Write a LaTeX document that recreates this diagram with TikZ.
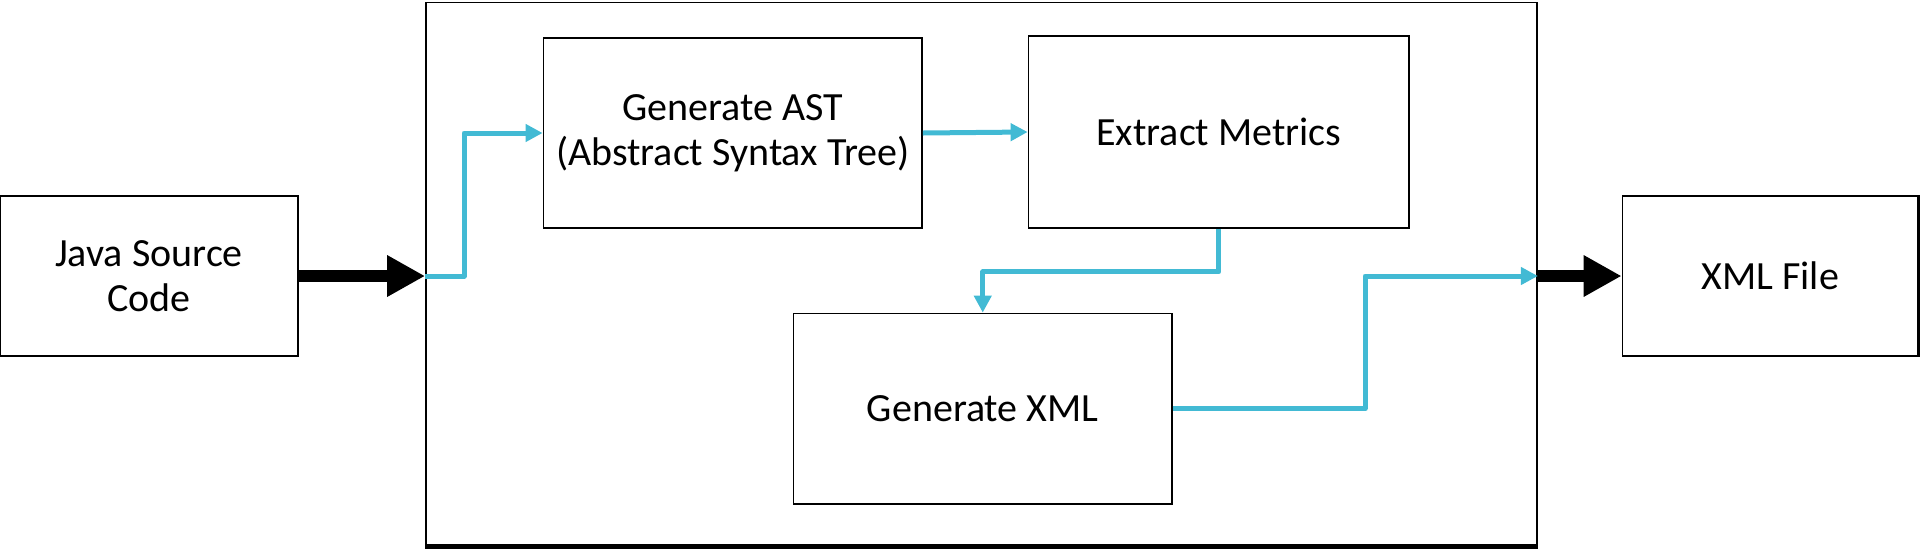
\documentclass[tikz,border=0pt]{standalone}
\usepackage{fontspec}
\setmainfont{Carlito}
\usetikzlibrary{arrows.meta}
\definecolor{flowcyan}{RGB}{66,186,212}
\begin{document}
\begin{tikzpicture}[x=1pt,y=-1pt,
  box/.style={draw=black,line width=1.8pt,inner sep=0pt,align=center,font=\fontsize{40}{45}\selectfont},
  flow/.style={draw=flowcyan,line width=5pt,line join=round,-{Triangle[length=17pt,width=17pt]}},
  bigarrow/.style={draw=black,line width=12pt,-{Triangle[length=38pt,width=39pt]}}]
\useasboundingbox (0,0) rectangle (1920,550);

\node[box,minimum width=1111pt,minimum height=543.6pt] (outer) at (981.5,274.2) {};
\draw[line width=5pt] (outer.south west) -- (outer.south east);

\node[box,minimum width=298pt,minimum height=160pt] (java) at (149,276) {Java Source\\Code};
\node[box,minimum width=378.5pt,minimum height=190pt] (ast) at (732.75,133) {Generate AST\\(Abstract Syntax Tree)};
\node[box,minimum width=380.5pt,minimum height=192pt] (extract) at (1218.8,132) {Extract Metrics};
\node[box,minimum width=378.5pt,minimum height=190.5pt] (genxml) at (982.75,408.75) {Generate XML};
\node[box,minimum width=295.5pt,minimum height=160pt] (xml) at (1770.25,276) {XML File};
\draw[line width=3.5pt] (xml.north east) -- (xml.south east);

\coordinate (bigin) at (java.east -| outer.west);
\coordinate (bigout) at (xml.west -| outer.east);
\coordinate (turn1) at (464,276);
\coordinate (turn2) at (1365,276);

\draw[bigarrow] (java.east) -- (bigin);
\draw[bigarrow] (bigout) -- (xml.west);

\draw[flow] (bigin) -- (turn1) |- (ast.west);
\draw[flow] (ast.east) -- (extract.west);
\draw[flow] (extract.south) -- ++(0,43) -| (genxml.north);
\draw[flow] (genxml.east) -| (turn2) -- (bigout);
\end{tikzpicture}
\end{document}
